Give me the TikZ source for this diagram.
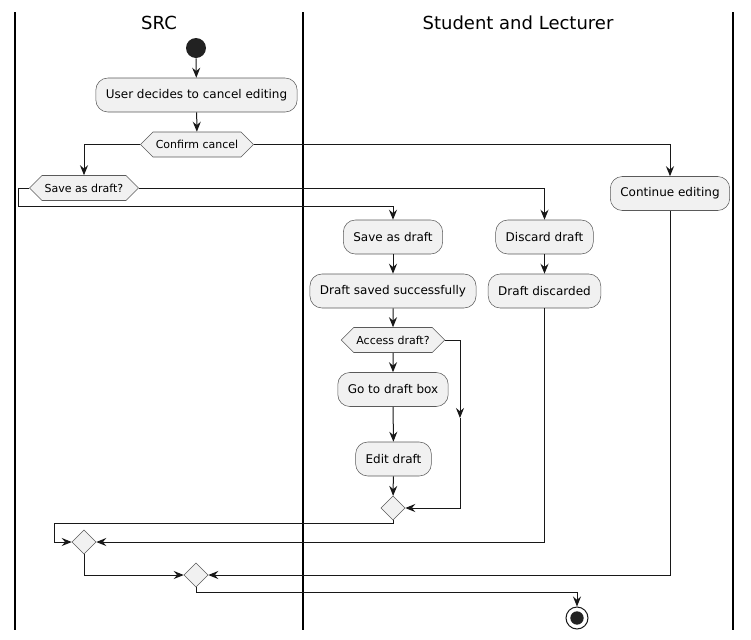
\documentclass[tikz,border=0pt]{standalone}
\usepackage{fontspec}
\setmainfont{DejaVu Sans}
\usetikzlibrary{arrows.meta,shapes.geometric,shapes.symbols}
\definecolor{boxfill}{HTML}{F1F1F1}
\definecolor{boxline}{HTML}{5A5A5A}
\definecolor{ink}{HTML}{181818}
\definecolor{dot}{HTML}{222222}
\begin{document}
\begin{tikzpicture}[x=0.75pt,y=-0.75pt,
 act/.style={draw=boxline, fill=boxfill, line width=0.4pt, rounded corners=9pt, minimum height=25.5pt, inner xsep=7.5pt, inner ysep=0pt, font=\fontsize{9}{11}\selectfont},
 hex/.style={shape=signal, signal to=west and east, signal pointer angle=90, draw=boxline, fill=boxfill, line width=0.4pt, minimum height=18.75pt, inner xsep=2pt, inner ysep=0pt, font=\fontsize{8.25}{10}\selectfont},
 merge/.style={diamond, draw=boxline, fill=boxfill, line width=0.4pt, minimum width=18pt, minimum height=18pt, inner sep=0pt},
 arr/.style={draw=ink, line width=0.75pt, -{Stealth[length=7.5pt,width=6pt,inset=2.5pt]}},
 lane/.style={draw=black, line width=1.1pt},
 title/.style={font=\fontsize{13.5}{16}\selectfont}
]
\useasboundingbox (0,0) rectangle (751,640);
\draw[lane] (15,12) -- (15,630);
\draw[lane] (303,12) -- (303,630);
\draw[lane] (733,12) -- (733,630);
\node[title] (tsrc) at (159,23) {SRC};
\node[title] (tsl) at (518,23) {Student and Lecturer};

\node[circle, fill=dot, minimum size=15pt, inner sep=0pt] (start) at (196,48) {};
\node[act] (user) at (196.5,95) {User decides to cancel editing};
\node[hex] (confirm) at (197,144.5) {Confirm cancel};
\node[hex] (save) at (84,188) {Save as draft?};
\node[act] (cont) at (670,193.5) {Continue editing};
\node[act] (sad) at (393,237) {Save as draft};
\node[act] (disc) at (544.5,237) {Discard draft};
\node[act] (saved) at (393,291) {Draft saved successfully};
\node[act] (discd) at (544.5,291) {Draft discarded};
\node[hex] (access) at (393,340) {Access draft?};
\node[act] (goto) at (393,389.5) {Go to draft box};
\node[act] (edit) at (393.5,459) {Edit draft};
\node[merge] (m1) at (393,508) {};
\node[merge] (m2) at (84,542) {};
\node[merge] (m3) at (196,575) {};
\node[circle, draw=ink, fill=white, line width=0.75pt, minimum size=16.5pt, inner sep=0pt] (endo) at (577,618) {};
\node[circle, fill=dot, minimum size=10pt, inner sep=0pt] (endi) at (endo) {};

\draw[arr] (start) -- (user);
\draw[arr] (user) -- (confirm);
\draw[arr] (confirm.west) -| (save.north);
\draw[arr] (confirm.east) -| (cont.north);
\coordinate (sl) at (18,206);
\draw[arr] (save.west) -| (sl) -| (sad.north);
\draw[arr] (save.east) -| (disc.north);
\draw[arr] (sad) -- (saved);
\draw[arr] (disc) -- (discd);
\draw[arr] (saved) -- (access);
\draw[arr] (access) -- (goto);
\draw[arr] (goto) -- (edit);
\draw[arr] (edit) -- (m1);
\coordinate (ar) at (460,418);
\draw[arr] (access.east) -| (ar);
\draw[arr] (ar) |- (m1.east);
\coordinate (c2a) at (54,523);
\draw[arr] (m1.south) |- (c2a) |- (m2.west);
\draw[arr] (discd.south) |- (m2.east);
\draw[arr] (m2.south) |- (m3.west);
\draw[arr] (cont.south) |- (m3.east);
\coordinate (c3) at (577,592);
\draw[arr] (m3.south) |- (c3) -- (endo.north);
\end{tikzpicture}
\end{document}
